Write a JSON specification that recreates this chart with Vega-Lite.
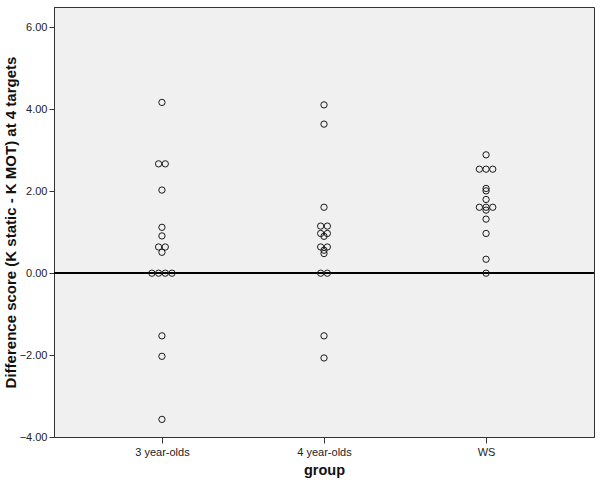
{
  "$schema": "https://vega.github.io/schema/vega-lite/v6.json",
  "width": 540,
  "height": 430,
  "autosize": "none",
  "padding": {"left": 54, "top": 7, "right": 6, "bottom": 46},
  "background": "white",
  "config": {
    "font": "Liberation Sans",
    "view": {"fill": "#f0f0f0", "stroke": "#333333", "strokeWidth": 1},
    "axis": {"grid": false, "domainColor": "#333333", "tickColor": "#333333", "labelColor": "#222222", "titleColor": "#111111", "labelFont": "Liberation Sans", "titleFont": "Liberation Sans"}
  },
  "data": {
    "values": [
      {"group": "3 year-olds", "value": 4.17},
      {"group": "3 year-olds", "value": 2.67},
      {"group": "3 year-olds", "value": 2.67},
      {"group": "3 year-olds", "value": 2.03},
      {"group": "3 year-olds", "value": 1.12},
      {"group": "3 year-olds", "value": 0.91},
      {"group": "3 year-olds", "value": 0.64},
      {"group": "3 year-olds", "value": 0.64},
      {"group": "3 year-olds", "value": 0.51},
      {"group": "3 year-olds", "value": 0},
      {"group": "3 year-olds", "value": 0},
      {"group": "3 year-olds", "value": 0},
      {"group": "3 year-olds", "value": 0},
      {"group": "3 year-olds", "value": -1.53},
      {"group": "3 year-olds", "value": -2.03},
      {"group": "3 year-olds", "value": -3.57},
      {"group": "4 year-olds", "value": 4.11},
      {"group": "4 year-olds", "value": 3.64},
      {"group": "4 year-olds", "value": 1.61},
      {"group": "4 year-olds", "value": 1.15},
      {"group": "4 year-olds", "value": 1.15},
      {"group": "4 year-olds", "value": 0.97},
      {"group": "4 year-olds", "value": 0.97},
      {"group": "4 year-olds", "value": 0.9},
      {"group": "4 year-olds", "value": 0.64},
      {"group": "4 year-olds", "value": 0.64},
      {"group": "4 year-olds", "value": 0.56},
      {"group": "4 year-olds", "value": 0.48},
      {"group": "4 year-olds", "value": 0},
      {"group": "4 year-olds", "value": 0},
      {"group": "4 year-olds", "value": -1.53},
      {"group": "4 year-olds", "value": -2.07},
      {"group": "WS", "value": 2.89},
      {"group": "WS", "value": 2.54},
      {"group": "WS", "value": 2.54},
      {"group": "WS", "value": 2.54},
      {"group": "WS", "value": 2.07},
      {"group": "WS", "value": 2.01},
      {"group": "WS", "value": 1.8},
      {"group": "WS", "value": 1.61},
      {"group": "WS", "value": 1.61},
      {"group": "WS", "value": 1.61},
      {"group": "WS", "value": 1.54},
      {"group": "WS", "value": 1.32},
      {"group": "WS", "value": 0.97},
      {"group": "WS", "value": 0.34},
      {"group": "WS", "value": 0}
    ]
  },
  "layer": [
    {
      "mark": {"type": "rule", "color": "#000000", "strokeWidth": 1.2},
      "encoding": {
        "y": {"datum": 0, "type": "quantitative"}
      }
    },
    {
      "transform": [
        {"window": [{"op": "row_number", "as": "rank"}, {"op": "count", "as": "n"}], "groupby": ["group", "value"], "frame": [null, null]},
        {"calculate": "datum.rank - (datum.n + 1) / 2", "as": "slot"}
      ],
      "mark": {"type": "point", "shape": "circle", "filled": false, "stroke": "#1a1a1a", "strokeWidth": 1, "size": 40, "opacity": 1},
      "encoding": {
        "x": {
          "field": "group", "type": "nominal",
          "sort": ["3 year-olds", "4 year-olds", "WS"],
          "scale": {"type": "point", "padding": 0.666},
          "axis": {"title": "group", "labelAngle": 0, "labelFontSize": 11, "labelPadding": 3, "tickSize": 6, "titleFontSize": 14.5, "titleFontWeight": "bold", "titlePadding": 6}
        },
        "xOffset": {"field": "slot", "type": "quantitative", "scale": {"domain": [-1, 1], "range": [-6.7, 6.7]}},
        "y": {
          "field": "value", "type": "quantitative",
          "scale": {"domain": [-4, 6.5], "nice": false, "zero": false},
          "axis": {"title": "Difference score (K static - K MOT) at 4 targets", "values": [-4, -2, 0, 2, 4, 6], "format": ".2f", "labelFontSize": 11, "labelPadding": 2, "tickSize": 5, "titleFontSize": 15, "titleFontWeight": "bold", "titlePadding": 1}
        }
      }
    }
  ]
}
